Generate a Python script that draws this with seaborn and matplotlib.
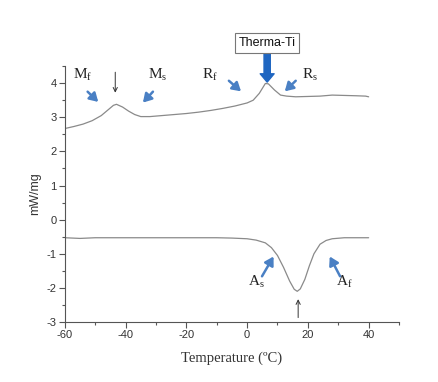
import matplotlib
matplotlib.use("Agg")
import matplotlib.pyplot as plt
import seaborn as sns
import pandas as pd
from matplotlib.ticker import MultipleLocator

# Cooling curve (upper)
cool_temp = [-60, -57, -54, -51, -48, -46, -44, -43, -41, -39, -37, -35, -32, -28, -24,
             -20, -16, -12, -8, -4, 0, 2, 4, 6, 7, 9, 11, 13, 16, 20, 24, 28, 32, 36, 39, 40]
cool_val = [2.67, 2.73, 2.80, 2.90, 3.05, 3.20, 3.35, 3.38, 3.30, 3.18, 3.08, 3.02, 3.02, 3.05, 3.08,
            3.11, 3.15, 3.20, 3.26, 3.33, 3.42, 3.50, 3.70, 3.99, 3.98, 3.80, 3.65, 3.62, 3.60, 3.61,
            3.62, 3.65, 3.64, 3.63, 3.62, 3.60]

# Heating curve (lower)
heat_temp = [-60, -55, -50, -40, -30, -20, -10, -5, 0, 3, 6, 8, 10, 12, 14, 15.5, 16.5,
             17.5, 19, 20.5, 22, 24, 26, 28, 32, 40]
heat_val = [-0.53, -0.55, -0.53, -0.53, -0.53, -0.53, -0.53, -0.54, -0.56, -0.60, -0.68, -0.82,
            -1.05, -1.40, -1.80, -2.04, -2.10, -2.03, -1.75, -1.35, -1.00, -0.72, -0.61, -0.56,
            -0.53, -0.53]

cool_df = pd.DataFrame({"temp": cool_temp, "val": cool_val})
heat_df = pd.DataFrame({"temp": heat_temp, "val": heat_val})

sns.set_style("ticks")
plt.rcParams["font.family"] = ["Liberation Sans", "DejaVu Sans"]
plt.rcParams["axes.unicode_minus"] = False
plt.rcParams["mathtext.fontset"] = "custom"
plt.rcParams["mathtext.rm"] = "Liberation Serif"
plt.rcParams["mathtext.it"] = "Liberation Serif:italic"

fig = plt.figure(figsize=(4.38, 3.82), dpi=100)
ax = fig.add_axes([0.148, 0.157, 0.763, 0.67])

line_col = "#8a8a8a"
sns.lineplot(data=cool_df, x="temp", y="val", ax=ax, color=line_col, lw=0.9, estimator=None, sort=False)
sns.lineplot(data=heat_df, x="temp", y="val", ax=ax, color=line_col, lw=0.9, estimator=None, sort=False)

ax.set_xlim(-60, 50)
ax.set_ylim(-3, 4.5)
ax.xaxis.set_major_locator(MultipleLocator(20))
ax.xaxis.set_minor_locator(MultipleLocator(10))
ax.yaxis.set_major_locator(MultipleLocator(1))
ax.yaxis.set_minor_locator(MultipleLocator(0.5))
ax.set_xticks([-60, -40, -20, 0, 20, 40])
sns.despine(ax=ax)
for s in ["left", "bottom"]:
    ax.spines[s].set_color("#555555")
    ax.spines[s].set_linewidth(0.8)
ax.tick_params(which="major", length=4, width=0.8, color="#555555", labelsize=8, labelcolor="#333333", pad=2)
ax.tick_params(which="minor", length=2.5, width=0.8, color="#555555")

ax.set_xlabel("Temperature (\u00baC)", family="Liberation Serif", fontsize=10.5, color="#333333", labelpad=8)
ax.set_ylabel("mW/mg", fontsize=9, color="#333333", labelpad=4)

blue = "#4a80c4"
serif = dict(fontsize=11, color="#222222", ha="center", va="center")

def blue_arrow(x0, y0, x1, y1):
    ax.annotate("", xy=(x1, y1), xytext=(x0, y0),
                arrowprops=dict(arrowstyle="-|>,head_length=0.5,head_width=0.3",
                                color=blue, lw=1.8, shrinkA=0, shrinkB=0))

def black_arrow(x0, y0, x1, y1):
    ax.annotate("", xy=(x1, y1), xytext=(x0, y0),
                arrowprops=dict(arrowstyle="->,head_length=0.3,head_width=0.15",
                                color="#333333", lw=0.7, shrinkA=0, shrinkB=0))

ax.text(-54, 4.23, r"$\mathrm{M_f}$", **serif)
blue_arrow(-52.5, 3.75, -49, 3.45)
black_arrow(-43.4, 4.32, -43.4, 3.72)
ax.text(-29.6, 4.23, r"$\mathrm{M_s}$", **serif)
blue_arrow(-31, 3.75, -34.3, 3.43)
ax.text(-12.2, 4.23, r"$\mathrm{R_f}$", **serif)
blue_arrow(-6, 4.07, -2, 3.76)
ax.text(20.7, 4.23, r"$\mathrm{R_s}$", **serif)
blue_arrow(16, 4.07, 12.4, 3.76)

# big arrow and label
ax.annotate("", xy=(6.6, 4.03), xytext=(6.6, 4.85),
            arrowprops=dict(arrowstyle="simple,head_length=0.6,head_width=1.0,tail_width=0.45",
                            color="#1f66c1", shrinkA=0, shrinkB=0), annotation_clip=False)
ax.text(6.6, 5.18, "Therma-Ti", fontsize=9, color="#111111", ha="center", va="center",
        bbox=dict(boxstyle="square,pad=0.3", fc="white", ec="#777777", lw=0.8), clip_on=False)

ax.text(3, -1.82, r"$\mathrm{A_s}$", **serif)
blue_arrow(4.9, -1.66, 8.7, -1.08)
ax.text(32, -1.82, r"$\mathrm{A_f}$", **serif)
blue_arrow(30.6, -1.66, 27.2, -1.08)
black_arrow(16.8, -2.87, 16.8, -2.33)

fig.savefig("out.png", dpi=100)
